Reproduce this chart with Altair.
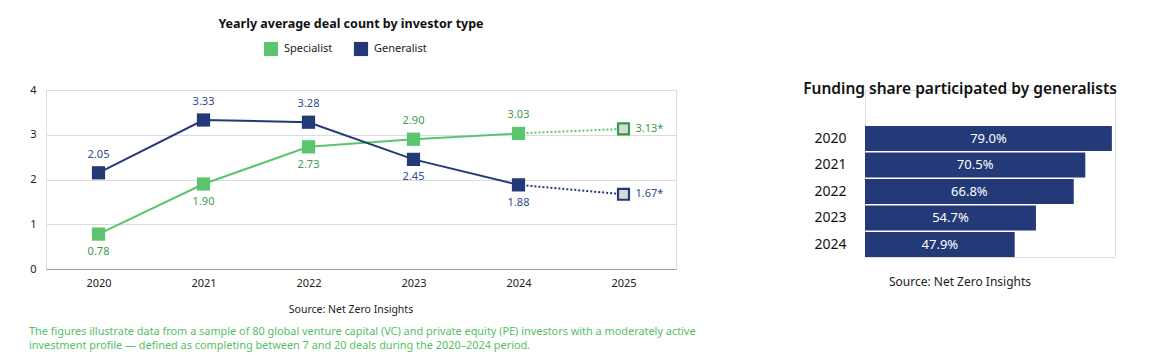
import altair as alt
import pandas as pd

# ---------------- data ----------------
years = ["2020", "2021", "2022", "2023", "2024", "2025"]
specialist = [0.78, 1.90, 2.73, 2.90, 3.03, 3.13]
generalist = [2.15, 3.33, 3.28, 2.45, 1.88, 1.67]
specialist_labels = ["0.78", "1.90", "2.73", "2.90", "3.03", "3.13*"]
generalist_labels = ["2.05", "3.33", "3.28", "2.45", "1.88", "1.67*"]
specialist_label_pos = ["below", "below", "below", "above", "above", "right"]
generalist_label_pos = ["above", "above", "above", "below", "below", "right"]
projected_years = ["2025"]

share_years = ["2020", "2021", "2022", "2023", "2024"]
share_values = [79.0, 70.5, 66.8, 54.7, 47.9]

series_names = ["Specialist", "Generalist"]

# ---------------- styles ----------------
FONT = "Noto Sans"
GREEN = "#5cc46e"
GREEN_DARK = "#2f9e44"
GREEN_TEXT = "#3d9a50"
NAVY = "#243a78"
NAVY_TEXT = "#2f4b8c"
PROJ_FILL = "#d9d9d9"
SERIES_COLORS = [GREEN, NAVY]
LEGEND_X = [225, 315]   # swatch centres, px from the plot's left edge
LEGEND_Y = -41

rows = []
for name, vals, labs, poss in [
    ("Specialist", specialist, specialist_labels, specialist_label_pos),
    ("Generalist", generalist, generalist_labels, generalist_label_pos),
]:
    for y, v, l, p in zip(years, vals, labs, poss):
        rows.append({"series": name, "year": y, "value": v,
                     "label": l, "pos": p, "proj": y in projected_years})
df = pd.DataFrame(rows)

xenc = alt.X("year:O", scale=alt.Scale(type="point", padding=0.5),
             axis=alt.Axis(title=None, labelAngle=0, domainColor="#9a9a9a",
                           ticks=False, labelPadding=8, labelFontSize=11,
                           labelColor="#222222", labelFont=FONT, grid=False))
yenc = alt.Y("value:Q", scale=alt.Scale(domain=[0, 4]),
             axis=alt.Axis(title=None, values=[0, 1, 2, 3, 4], domain=False,
                           ticks=False, labelPadding=10, labelFontSize=11,
                           labelColor="#222222", labelFont=FONT,
                           gridColor="#dcdcdc", gridWidth=1))
series_scale = alt.Scale(domain=series_names, range=SERIES_COLORS)

base = alt.Chart(df).encode(x=xenc, y=yenc)

solid = base.transform_filter("!datum.proj").mark_line(strokeWidth=2).encode(
    stroke=alt.Stroke("series:N", scale=series_scale, legend=None))
dotted = base.transform_filter("datum.year >= '2024'").mark_line(
    strokeWidth=2, strokeDash=[2, 2]).encode(
    stroke=alt.Stroke("series:N", scale=series_scale, legend=None))
squares = base.transform_filter("!datum.proj").mark_square(
    size=175, opacity=1, filled=True).encode(
    fill=alt.Fill("series:N", scale=series_scale, legend=None))
proj_squares = base.transform_filter("datum.proj").mark_square(
    size=120, filled=True, fill=PROJ_FILL, strokeWidth=2.2, opacity=1).encode(
    stroke=alt.condition("datum.series == 'Specialist'", alt.value(GREEN_DARK),
                         alt.value(NAVY)))

text_color = alt.condition("datum.series == 'Specialist'", alt.value(GREEN_TEXT),
                           alt.value(NAVY_TEXT))
lab_above = base.transform_filter("datum.pos == 'above'").mark_text(
    dy=-18, fontSize=11, font=FONT).encode(text="label:N", color=text_color)
lab_below = base.transform_filter("datum.pos == 'below'").mark_text(
    dy=18, fontSize=11, font=FONT).encode(text="label:N", color=text_color)
lab_right = base.transform_filter("datum.pos == 'right'").mark_text(
    dx=12, align="left", fontSize=11, font=FONT).encode(text="label:N", color=text_color)

one = pd.DataFrame({"k": [0]})

# legend (swatch + label per series)
legend_layers = []
for name, col, lx in zip(series_names, SERIES_COLORS, LEGEND_X):
    legend_layers.append(alt.Chart(one).mark_square(
        size=200, filled=True, color=col, opacity=1).encode(
        x=alt.value(lx), y=alt.value(LEGEND_Y)))
    legend_layers.append(alt.Chart(one).mark_text(
        text=name, fontSize=11, font=FONT, color="#222222", align="left",
        baseline="middle").encode(x=alt.value(lx + 13), y=alt.value(LEGEND_Y)))

left_title = alt.Chart(one).mark_text(
    text="Yearly average deal count by investor type", fontSize=12.5,
    fontWeight="bold", font=FONT, color="#111111", align="center",
    baseline="alphabetic").encode(x=alt.value(305), y=alt.value(-62))
left_source = alt.Chart(one).mark_text(
    text="Source: Net Zero Insights", fontSize=10.5, font=FONT,
    color="#222222", align="center", baseline="alphabetic").encode(
    x=alt.value(305), y=alt.value(223))
foot1 = alt.Chart(one).mark_text(
    text="The figures illustrate data from a sample of 80 global venture capital (VC) and private equity (PE) investors with a moderately active",
    fontSize=10.9, font=FONT, color="#55c066", align="left",
    baseline="alphabetic").encode(x=alt.value(-17), y=alt.value(245))
foot2 = alt.Chart(one).mark_text(
    text="investment profile \u2014 defined as completing between 7 and 20 deals during the 2020\u20132024 period.",
    fontSize=10.9, font=FONT, color="#55c066", align="left",
    baseline="alphabetic").encode(x=alt.value(-17), y=alt.value(259))

left = alt.layer(solid, dotted, squares, proj_squares, lab_above, lab_below,
                 lab_right, *legend_layers, left_title, left_source, foot1,
                 foot2).properties(width=630, height=179)

# ---------------- right panel ----------------
df2 = pd.DataFrame({"year": share_years, "share": share_values})
rbase = alt.Chart(df2).encode(
    y=alt.Y("year:O",
            scale=alt.Scale(paddingInner=0.06, paddingOuter=0.68, align=1),
            axis=alt.Axis(title=None, domain=False, ticks=False,
                          labelAlign="center", labelPadding=35,
                          labelFontSize=14, labelFont=FONT,
                          labelColor="#111111")))
bars = rbase.mark_bar(color=NAVY).encode(
    x=alt.X("share:Q", scale=alt.Scale(domain=[0, 80]), axis=None))
bar_text = rbase.transform_calculate(
    mid="datum.share / 2",
    lab="format(datum.share, '.1f') + '%'").mark_text(
    color="white", fontSize=13, font=FONT).encode(
    x=alt.X("mid:Q", scale=alt.Scale(domain=[0, 80]), axis=None),
    text="lab:N")
right_title = alt.Chart(one).mark_text(
    text="Funding share participated by generalists", fontSize=15.5,
    fontWeight=600, font=FONT, color="#111111", align="center",
    baseline="alphabetic").encode(x=alt.value(95), y=alt.value(4))
right_source = alt.Chart(one).mark_text(
    text="Source: Net Zero Insights", fontSize=12, font=FONT,
    color="#222222", align="center", baseline="alphabetic").encode(
    x=alt.value(95), y=alt.value(196))

right = alt.layer(bars, bar_text, right_title, right_source).properties(
    width=250, height=167)

chart = alt.hconcat(left, right, spacing=105).properties(
    padding={"left": 20, "top": 9, "right": 0, "bottom": 0}
).configure_view(stroke=None).configure(font=FONT, background="white")

chart.save("out.html", embed_options={"renderer": "svg", "actions": False})
